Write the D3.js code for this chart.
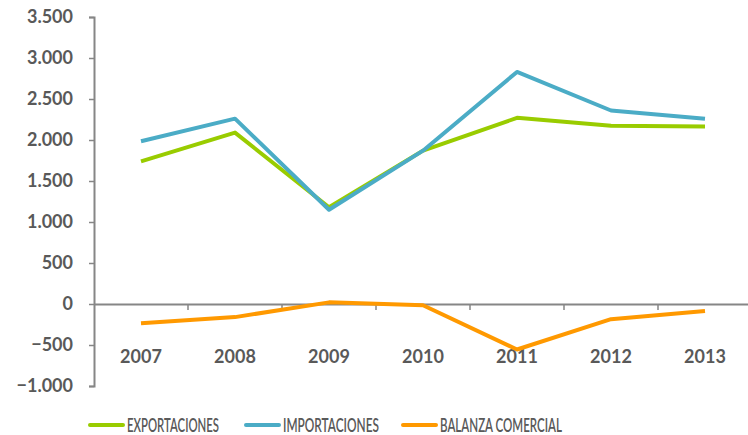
<!DOCTYPE html>
<html>
<head>
<meta charset="utf-8">
<script src="https://cdn.jsdelivr.net/npm/d3@7"></script>
<style>
  body { margin: 0; background: #fff; }
  svg text { font-family: Lato, "Open Sans", sans-serif; fill: #595959; }
</style>
</head>
<body>
<div id="chart"></div>
<script>
const years = ["2007", "2008", "2009", "2010", "2011", "2012", "2013"];
const exportaciones = [1740, 2090, 1180, 1870, 2270, 2175, 2165];
const importaciones = [1985, 2260, 1150, 1870, 2830, 2360, 2260];
const balanza = [-235, -160, 20, -15, -555, -185, -85];
const yTicks = [-1000, -500, 0, 500, 1000, 1500, 2000, 2500, 3000, 3500];

const series = [
  { name: "EXPORTACIONES", values: exportaciones, color: "#99CC00" },
  { name: "IMPORTACIONES", values: importaciones, color: "#4BACC6" },
  { name: "BALANZA COMERCIAL", values: balanza, color: "#FF9900" }
];

const width = 748, height = 435;
const margin = { top: 17, left: 94 };

const svg = d3.select("#chart").append("svg")
    .attr("width", width)
    .attr("height", height);

const x = d3.scaleBand().domain(years).range([margin.left, margin.left + 7 * 94]);
const y = d3.scaleLinear().domain([-1000, 3500]).range([386, margin.top]);

const fmt = v => d3.format(",")(v).replace(/,/g, ".");

// y axis
const yAxis = svg.append("g")
    .attr("transform", `translate(${margin.left},0)`)
    .call(d3.axisLeft(y).tickValues(yTicks).tickSize(5).tickPadding(16).tickFormat(fmt));
yAxis.select(".domain").attr("stroke", "#868686").attr("stroke-width", 2);
yAxis.selectAll(".tick line").attr("stroke", "#868686").attr("stroke-width", 1.5);
yAxis.selectAll("text")
    .style("font-size", "18px").style("font-weight", "bold").attr("fill", "#595959");

// x axis on zero line
const xAxis = svg.append("g")
    .attr("transform", `translate(0,${y(0)})`)
    .call(d3.axisBottom(x).tickSize(0).tickFormat(""));
xAxis.select(".domain").attr("stroke", "#868686").attr("stroke-width", 2);
xAxis.selectAll(".tick").remove();

// category separators
svg.append("g").selectAll("line")
  .data(years.slice(1))
  .join("line")
    .attr("x1", d => x(d)).attr("x2", d => x(d))
    .attr("y1", y(0)).attr("y2", y(0) + 6)
    .attr("stroke", "#868686").attr("stroke-width", 1.5);

// category labels
svg.append("g").selectAll("text")
  .data(years)
  .join("text")
    .attr("x", d => x(d) + x.bandwidth() / 2)
    .attr("y", 363)
    .attr("text-anchor", "middle")
    .style("font-size", "18px").style("font-weight", "bold")
    .text(d => d);

const line = d3.line()
    .x((d, i) => x(years[i]) + x.bandwidth() / 2)
    .y(d => y(d));

svg.append("g").selectAll("path")
  .data(series)
  .join("path")
    .attr("d", d => line(d.values))
    .attr("fill", "none")
    .attr("stroke", d => d.color)
    .attr("stroke-width", 4)
    .attr("stroke-linejoin", "round");

// legend
const legendX = [90, 246, 403];
const legendW = [92, 96, 122];
const legend = svg.append("g").selectAll("g")
  .data(series)
  .join("g")
    .attr("transform", (d, i) => `translate(${legendX[i]},425)`);
legend.append("line")
    .attr("x1", 0).attr("x2", 33)
    .attr("stroke", d => d.color).attr("stroke-width", 4).attr("stroke-linecap", "round");
legend.append("text")
    .attr("x", 37).attr("y", 7)
    .attr("textLength", (d, i) => legendW[i])
    .attr("lengthAdjust", "spacingAndGlyphs")
    .style("font-size", "19px")
    .style("font-weight", "600")
    .text(d => d.name);
</script>
</body>
</html>
